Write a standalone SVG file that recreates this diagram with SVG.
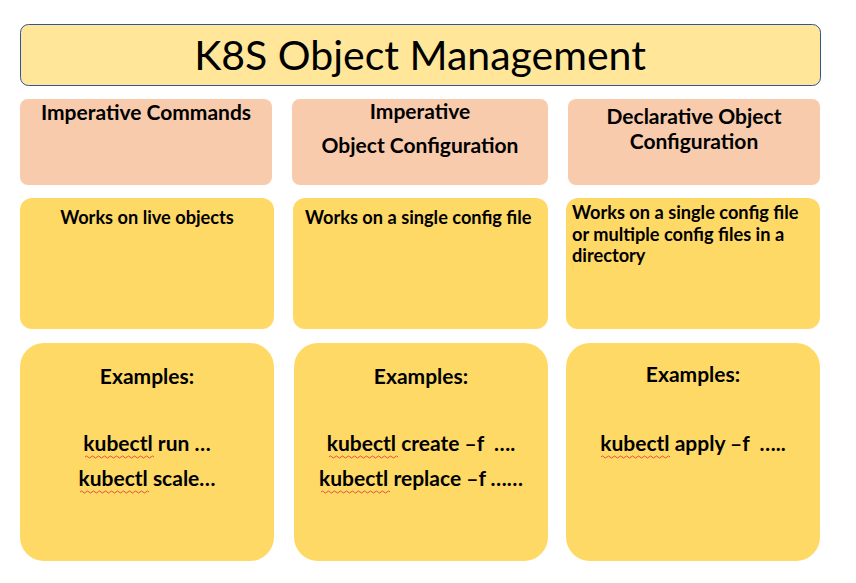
<svg xmlns="http://www.w3.org/2000/svg" width="856" height="583" viewBox="0 0 856 583">
<style>
.head{fill:#F8CBAD}
.card{fill:#FFD966}
.t{font-family:Lato,"Open Sans","Liberation Sans",sans-serif;font-weight:bold;fill:#000;white-space:pre}
.h{font-size:21px;text-anchor:middle}
.d{font-size:18.2px}
.e{font-size:21px;text-anchor:middle}
.sq{fill:none;stroke:#E03030;stroke-width:0.8}
</style>
<rect width="856" height="583" fill="#fff"/>
<g id="title">
<rect x="20.5" y="24.5" width="800" height="61" rx="8" fill="#FFE699" stroke="#2F5597" stroke-width="1"/>
<text x="420" y="70" font-family="Lato,'Open Sans','Liberation Sans',sans-serif" font-size="41" text-anchor="middle" fill="#000">K8S Object Management</text>
</g>
<g id="h1"><rect class="head" x="20" y="99" width="252" height="86" rx="8"/>
<text class="t h" x="146" y="120">Imperative Commands</text></g>
<g id="h2"><rect class="head" x="292" y="99" width="256" height="86" rx="8"/>
<text class="t h" x="420" y="119">Imperative</text>
<text class="t h" x="420" y="153">Object Configuration</text></g>
<g id="h3"><rect class="head" x="568" y="99" width="252" height="86" rx="8"/>
<text class="t h" x="694" y="124">Declarative Object</text>
<text class="t h" x="694" y="149">Configuration</text></g>
<g id="d1"><rect class="card" x="20" y="198" width="254" height="131" rx="12"/>
<text class="t d" x="147" y="224" text-anchor="middle">Works on live objects</text></g>
<g id="d2"><rect class="card" x="293" y="198" width="255" height="131" rx="12"/>
<text class="t d" x="305" y="224">Works on a single config file</text></g>
<g id="d3"><rect class="card" x="566" y="198" width="254" height="131" rx="12"/>
<text class="t d" x="572" y="219">Works on a single config file</text>
<text class="t d" x="572" y="241">or multiple config files in a</text>
<text class="t d" x="572" y="262">directory</text></g>
<g id="e1"><rect class="card" x="20" y="343" width="254" height="218" rx="24"/>
<text class="t e" x="147" y="384">Examples:</text>
<text class="t e" x="147" y="451">kubectl run …</text>
<text class="t e" x="147" y="486">kubectl scale…</text>
<path class="sq" d="M85 457 q1.5 -2 3 0 t3 0 t3 0 t3 0 t3 0 t3 0 t3 0 t3 0 t3 0 t3 0 t3 0 t3 0 t3 0 t3 0 t3 0 t3 0 t3 0 t3 0 t3 0 t3 0 t3 0 t3 0 t3 0"/>
<path class="sq" d="M80 492 q1.5 -2 3 0 t3 0 t3 0 t3 0 t3 0 t3 0 t3 0 t3 0 t3 0 t3 0 t3 0 t3 0 t3 0 t3 0 t3 0 t3 0 t3 0 t3 0 t3 0 t3 0 t3 0 t3 0 t3 0"/>
</g>
<g id="e2"><rect class="card" x="294" y="343" width="254" height="218" rx="24"/>
<text class="t e" x="421" y="384">Examples:</text>
<text class="t e" x="421" y="451">kubectl create –f  ….</text>
<text class="t e" x="421" y="486">kubectl replace –f ……</text>
<path class="sq" d="M329 457 q1.5 -2 3 0 t3 0 t3 0 t3 0 t3 0 t3 0 t3 0 t3 0 t3 0 t3 0 t3 0 t3 0 t3 0 t3 0 t3 0 t3 0 t3 0 t3 0 t3 0 t3 0 t3 0 t3 0 t3 0"/>
<path class="sq" d="M321 492 q1.5 -2 3 0 t3 0 t3 0 t3 0 t3 0 t3 0 t3 0 t3 0 t3 0 t3 0 t3 0 t3 0 t3 0 t3 0 t3 0 t3 0 t3 0 t3 0 t3 0 t3 0 t3 0 t3 0 t3 0"/>
</g>
<g id="e3"><rect class="card" x="566" y="343" width="254" height="218" rx="24"/>
<text class="t e" x="693" y="382">Examples:</text>
<text class="t e" x="693" y="451">kubectl apply –f  …..</text>
<path class="sq" d="M601 457 q1.5 -2 3 0 t3 0 t3 0 t3 0 t3 0 t3 0 t3 0 t3 0 t3 0 t3 0 t3 0 t3 0 t3 0 t3 0 t3 0 t3 0 t3 0 t3 0 t3 0 t3 0 t3 0 t3 0 t3 0"/>
</g>
</svg>
